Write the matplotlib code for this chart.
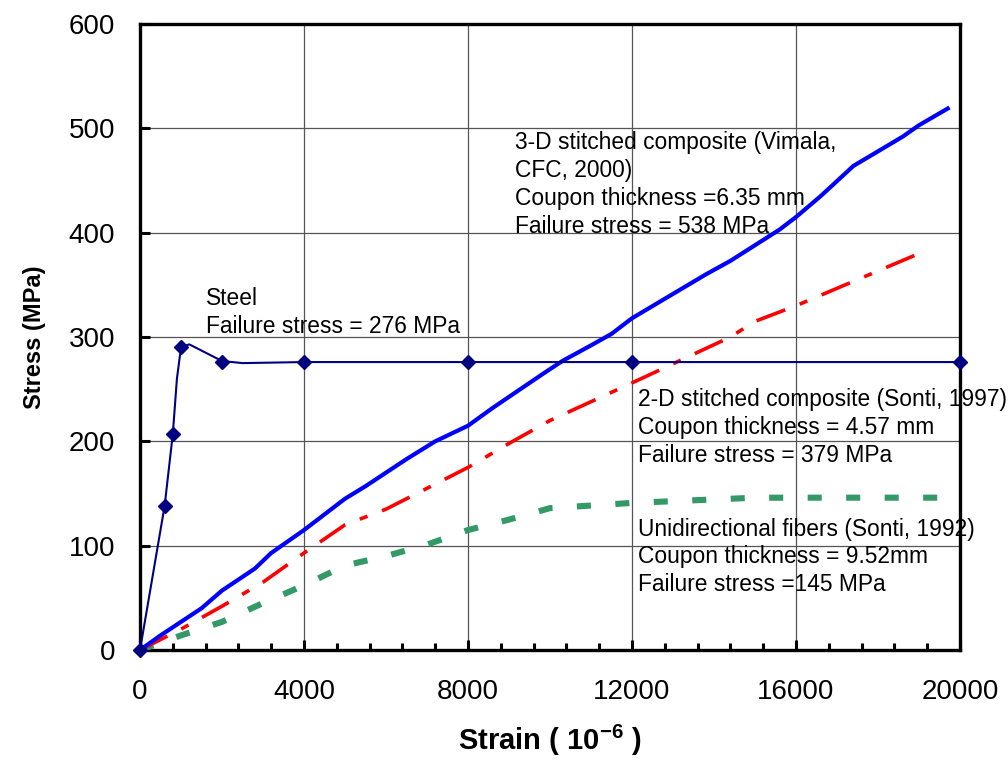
import numpy as np
import matplotlib.pyplot as plt
from matplotlib.ticker import MultipleLocator

plt.rcParams['font.family'] = ['Liberation Sans', 'DejaVu Sans']
plt.rcParams['mathtext.fontset'] = 'custom'
plt.rcParams['mathtext.rm'] = 'Liberation Sans'
plt.rcParams['mathtext.bf'] = 'Liberation Sans:bold'

# steel: marker points and the drawn curve through them
steel_x = [0, 600, 800, 1000, 2000, 4000, 8000, 12000, 20000]
steel_y = [0, 138, 207, 290, 276, 276, 276, 276, 276]
steel_line_x = [0, 600, 800, 900, 1000, 1200, 1500, 2000, 2500, 4000, 8000, 12000, 20000]
steel_line_y = [0, 138, 207, 260, 290, 293, 287, 277, 275, 276, 276, 276, 276]

# 3-D stitched composite
c3_x = [0, 500, 1000, 1500, 2000, 2800, 3200, 4000, 4500, 5000, 5500, 6000, 6500, 7200, 8000,
        8600, 9200, 9800, 10300, 11000, 11500, 12000, 12600, 13200, 13800, 14400, 15000,
        15600, 16000, 16600, 17400, 18000, 18600, 19000, 19700]
c3_y = [0, 14, 27, 40, 57, 78, 93, 115, 130, 145, 157, 170, 183, 200, 215,
        232, 248, 264, 277, 292, 303, 318, 332, 346, 360, 373, 388,
        403, 415, 435, 464, 478, 492, 503, 519]

# 2-D stitched composite
c2_x = [0, 1000, 2000, 3000, 4000, 5000, 6000, 7000, 8000, 9000, 10000, 12000, 14400, 15000, 16000, 19000]
c2_y = [0, 20, 42, 65, 93, 120, 135, 155, 175, 198, 220, 256, 300, 315, 330, 380]

# unidirectional fibers
ud_x = [0, 1000, 2000, 3000, 4000, 5000, 6000, 7000, 8000, 9000, 10000, 12000, 15000, 20000]
ud_y = [0, 14, 27, 45, 62, 81, 90, 101, 115, 125, 136, 141, 146, 146]

fig = plt.figure(figsize=(10.08, 7.65), dpi=100)
ax = fig.add_axes([0.1389, 0.1503, 0.8135, 0.8183])

ax.plot(ud_x, ud_y, color='#339966', lw=4.4, dashes=(2.3, 4.0), zorder=3)
ax.plot(c2_x, c2_y, color='red', lw=2.6, dashes=(8.5, 4.3, 2.3, 4.3), zorder=3)
ax.plot(c3_x, c3_y, color='blue', lw=3.0, zorder=4)
ax.plot(steel_line_x, steel_line_y, color='#000080', lw=1.5, zorder=5)
ax.plot(steel_x, steel_y, ls='none', marker='D', ms=7.5, color='#000080', zorder=6, clip_on=False)

ax.set_xlim(0, 20000)
ax.set_ylim(0, 600)
ax.xaxis.set_major_locator(MultipleLocator(4000))
ax.xaxis.set_minor_locator(MultipleLocator(800))
ax.yaxis.set_major_locator(MultipleLocator(100))
ax.grid(True, which='major', color='#555555', lw=0.9)
ax.set_axisbelow(True)
ax.tick_params(which='both', direction='in', labelsize=20, width=2.2)
ax.tick_params(axis='x', which='major', length=7, pad=21)
ax.tick_params(axis='y', which='major', length=7, pad=18)
ax.tick_params(which='minor', length=5)
for s in ax.spines.values():
    s.set_linewidth(2.4)

ax.set_xlabel(r'Strain ( 10$^{\mathbf{-6}}$ )', fontsize=21, fontweight='bold', labelpad=13)
ax.set_ylabel('Stress (MPa)', fontsize=17, fontweight='bold', labelpad=16)

fs = 16.4
ls = 1.26
ax.text(1610, 348, 'Steel\nFailure stress = 276 MPa', fontsize=fs, va='top', ha='left', linespacing=ls)
ax.text(9150, 497, '3-D stitched composite (Vimala,\nCFC, 2000)\nCoupon thickness =6.35 mm\nFailure stress = 538 MPa',
        fontsize=fs, va='top', ha='left', linespacing=ls)
ax.text(12150, 251, '2-D stitched composite (Sonti, 1997)\nCoupon thickness = 4.57 mm\nFailure stress = 379 MPa',
        fontsize=fs, va='top', ha='left', linespacing=ls, clip_on=False)
ax.text(12150, 127, 'Unidirectional fibers (Sonti, 1992)\nCoupon thickness = 9.52mm\nFailure stress =145 MPa',
        fontsize=fs, va='top', ha='left', linespacing=ls)

fig.savefig('out.png', dpi=100)
